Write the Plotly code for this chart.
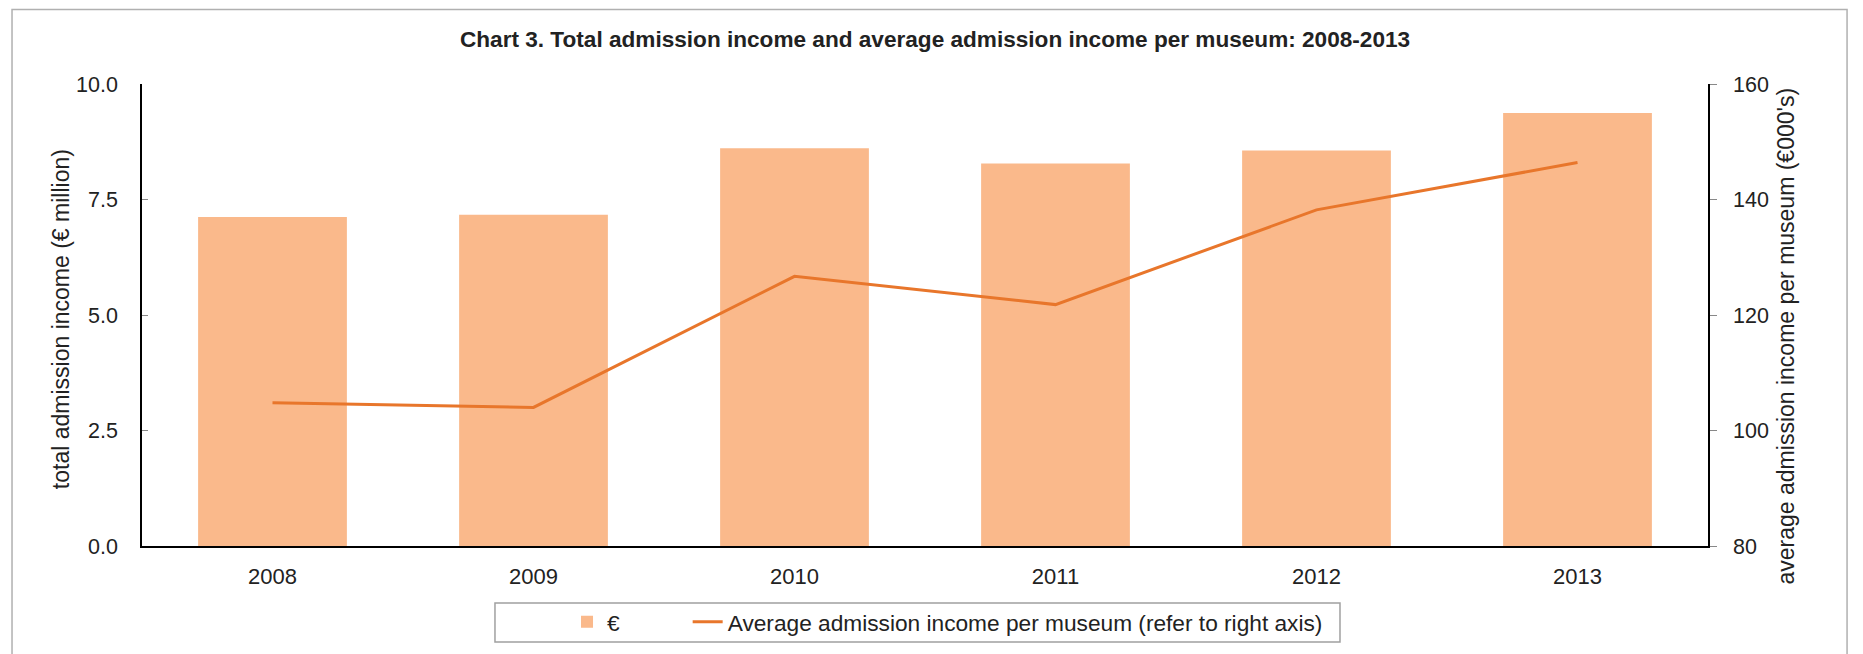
import plotly.graph_objects as go

years = ["2008", "2009", "2010", "2011", "2012", "2013"]
total_income = [7.12, 7.17, 8.61, 8.28, 8.56, 9.37]          # € million, left axis
avg_income = [104.8, 104.0, 126.7, 121.8, 138.2, 146.4]      # €000's, right axis

bar_color = "#FAB98B"
line_color = "#E8762B"
font = "Liberation Sans, Arial, sans-serif"
nb = "\u00a0"

fig = go.Figure()

fig.add_trace(go.Bar(
    x=years,
    y=total_income,
    name="€" + nb * 10,
    marker=dict(color=bar_color, line=dict(width=0)),
    yaxis="y",
))

fig.add_trace(go.Scatter(
    x=years,
    y=avg_income,
    name="Average admission income per museum (refer to right axis)",
    mode="lines",
    line=dict(color=line_color, width=3),
    yaxis="y2",
))

# note: page body adds an 8px offset, margins are compensated for it
fig.update_layout(
    width=1863,
    height=654,
    paper_bgcolor="white",
    plot_bgcolor="white",
    font=dict(family=font, size=22, color="#222222"),
    title=dict(
        text="<b>Chart 3. Total admission income and average admission income per museum: 2008-2013</b>",
        x=0.4976,
        xanchor="center",
        y=0.9526,
        yanchor="middle",
        font=dict(family=font, size=22.6, color="#222222"),
    ),
    margin=dict(l=134, r=163, t=76, b=116),
    bargap=0.43,
    showlegend=True,
    legend=dict(
        orientation="h",
        x=0.2714,
        xanchor="left",
        y=-0.1645,
        yanchor="middle",
        borderwidth=0,
        bgcolor="rgba(0,0,0,0)",
        font=dict(size=22.7),
        traceorder="normal",
    ),
    xaxis=dict(
        showline=True,
        linecolor="black",
        linewidth=1.5,
        ticks="",
        showgrid=False,
        tickfont=dict(size=22),
        ticklabelstandoff=10,
    ),
    yaxis=dict(
        range=[0, 10],
        dtick=2.5,
        tickformat=".1f",
        showline=True,
        linecolor="black",
        linewidth=1.5,
        ticks="inside",
        ticklen=6,
        tickcolor="#888888",
        showgrid=False,
        zeroline=False,
        tickfont=dict(size=21.5),
        ticklabelstandoff=18,
    ),
    yaxis2=dict(
        range=[80, 160],
        dtick=20,
        overlaying="y",
        side="right",
        showline=True,
        linecolor="black",
        linewidth=1.5,
        ticks="outside",
        ticklen=7,
        tickcolor="#888888",
        showgrid=False,
        zeroline=False,
        tickfont=dict(size=21.5),
        ticklabelstandoff=12,
    ),
    annotations=[
        dict(text="total admission income (€ million)", textangle=-90,
             xref="paper", yref="paper", x=-0.0513, y=0.4903,
             xanchor="center", yanchor="middle", showarrow=False,
             font=dict(size=23)),
        dict(text="average admission income per museum (€000's)", textangle=-90,
             xref="paper", yref="paper", x=1.0501, y=0.4545,
             xanchor="center", yanchor="middle", showarrow=False,
             font=dict(size=23)),
    ],
    shapes=[
        # outer chart frame
        dict(type="rect", xref="paper", yref="paper",
             x0=-0.083, x1=1.0888, y0=-0.3, y1=1.161,
             line=dict(color="#B0B0B0", width=1.5),
             fillcolor="rgba(0,0,0,0)", layer="below"),
        # legend frame
        dict(type="rect", xref="paper", yref="paper",
             x0=0.2254, x1=0.765, y0=-0.2078, y1=-0.1234,
             line=dict(color="#A0A0A0", width=1.5),
             fillcolor="rgba(0,0,0,0)", layer="below"),
    ],
)

fig.write_html("out.html")
